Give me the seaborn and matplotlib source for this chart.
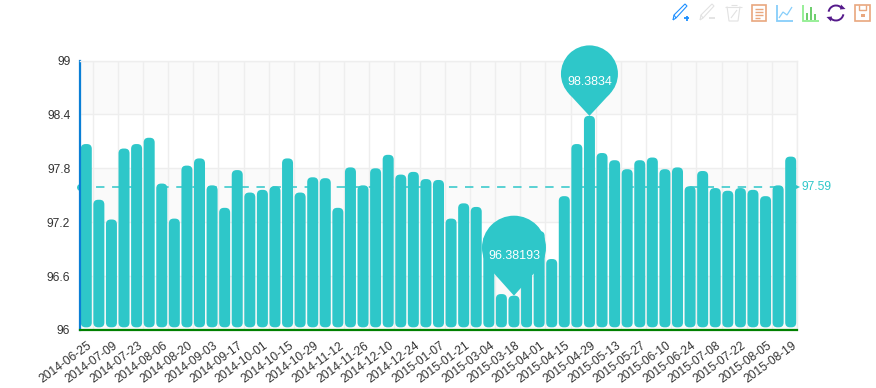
import numpy as np
import pandas as pd
import seaborn as sns
from matplotlib import pyplot as plt
from matplotlib.patches import FancyBboxPatch, Circle, Polygon, Rectangle, Arc
from matplotlib.transforms import Affine2D

tick_labels = ['2014-06-25', '2014-07-09', '2014-07-23', '2014-08-06', '2014-08-20', '2014-09-03',
               '2014-09-17', '2014-10-01', '2014-10-15', '2014-10-29', '2014-11-12', '2014-11-26',
               '2014-12-10', '2014-12-24', '2015-01-07', '2015-01-21', '2015-03-04', '2015-03-18',
               '2015-04-01', '2015-04-15', '2015-04-29', '2015-05-13', '2015-05-27', '2015-06-10',
               '2015-06-24', '2015-07-08', '2015-07-22', '2015-08-05', '2015-08-19']
values = [98.07, 97.45, 97.23, 98.02, 98.07, 98.14, 97.63, 97.24, 97.83, 97.91,
          97.61, 97.36, 97.78, 97.53, 97.56, 97.60, 97.91, 97.53, 97.70, 97.69,
          97.36, 97.81, 97.61, 97.80, 97.95, 97.73, 97.76, 97.68, 97.67, 97.24,
          97.41, 97.37, 97.05, 96.40, 96.38193, 97.00, 97.10, 96.79, 97.49, 98.07,
          98.3834, 97.97, 97.89, 97.79, 97.89, 97.92, 97.79, 97.81, 97.60, 97.77,
          97.58, 97.55, 97.58, 97.56, 97.49, 97.61, 97.93]
y_ticks = [96, 96.6, 97.2, 97.8, 98.4, 99]
y_tick_labels = ['96', '96.6', '97.2', '97.8', '98.4', '99']
mean_value = 97.59

teal = '#2ec7c9'
grid = '#eeeeee'
band = '#fafafa'
text_color = '#333333'

sns.set_theme(style="white")
plt.rcParams['font.family'] = ['Liberation Sans', 'DejaVu Sans']
font_size = 8.64

W, H = 876, 388
fig = plt.figure(figsize=(W / 100, H / 100), dpi=100)
ax = fig.add_axes([80 / W, (H - 330) / H, 717 / W, 269.5 / H])

data = pd.DataFrame({'bar': np.arange(len(values)), 'value': values})
sns.barplot(data=data, x='bar', y='value', color=teal, saturation=1, width=0.875, ax=ax)

n = len(values)
ax.set_xlim(-0.5, n - 0.5)
ax.set_ylim(96, 99)
ax.set_xlabel('')
ax.set_ylabel('')

# rounded bars instead of the square ones
aspect = (717 / n) / (269.5 / 3)
for p in list(ax.patches):
    x0, w, top = p.get_x(), p.get_width(), p.get_height()
    p.remove()
    ax.add_patch(FancyBboxPatch((x0, 96.03), w, top - 96.03, boxstyle='round,pad=0,rounding_size=0.38',
                                mutation_aspect=aspect, fc=teal, ec='none', zorder=3))

for i in range(0, len(y_ticks) - 1, 2):
    ax.axhspan(y_ticks[len(y_ticks) - 2 - i], y_ticks[len(y_ticks) - 1 - i], color=band, lw=0, zorder=0)

edges = [-0.5] + list(np.arange(0.5, n - 1, 2)) + [n - 0.5]
ax.set_xticks(edges, [''] * len(edges))
ax.set_xticks(np.arange(0, n, 2), tick_labels, minor=True)
ax.set_yticks(y_ticks, y_tick_labels)
ax.grid(True, which='major', color=grid, lw=1.0, zorder=1)
ax.set_axisbelow(True)
ax.tick_params(axis='x', which='major', length=4, width=0.8, color=text_color, direction='out', pad=0)
ax.tick_params(axis='x', which='minor', length=0, pad=7, labelsize=font_size, labelcolor=text_color)
ax.tick_params(axis='y', length=0, pad=7, labelsize=font_size, labelcolor=text_color)

shift = Affine2D().translate(1, 0)
for t in ax.get_xticklabels(minor=True):
    t.set_rotation(36)
    t.set_ha('right')
    t.set_va('top')
    t.set_rotation_mode('anchor')
    t.set_transform(t.get_transform() + shift)

for side in ['top', 'right']:
    ax.spines[side].set_color(grid)
    ax.spines[side].set_linewidth(1.0)
ax.spines['left'].set_color('#0a7fd6')
ax.spines['left'].set_linewidth(1.6)
ax.spines['bottom'].set_color('#008000')
ax.spines['bottom'].set_linewidth(1.6)
for s in ax.spines.values():
    s.set_visible(True)
    s.set_zorder(6)

# average line
ax.plot([-0.5, n - 0.5], [mean_value, mean_value], color=teal, lw=1.1, dashes=(5.5, 5), zorder=2, clip_on=False)
ax.plot([-0.5], [mean_value], 'o', color=teal, ms=5, mew=0, zorder=2, clip_on=False)
ax.plot([n - 0.5], [mean_value], '>', color=teal, ms=5, mew=0, zorder=7, clip_on=False)
ax.annotate(f'{mean_value}', (n - 0.5, mean_value), xytext=(3.6, 0), textcoords='offset points',
            color=teal, fontsize=font_size, va='center', ha='left', annotation_clip=False)


# marker pins, sizes in pixels from the tip of the bar
def pin(index, text, radius, dist, text_drop):
    tx, ty = ax.transData.transform((index, values[index]))
    off = Affine2D().translate(tx, ty)
    side = radius * np.sqrt(1 - (radius / dist) ** 2)
    up = dist - radius ** 2 / dist
    ax.add_patch(Circle((0, dist), radius, transform=off, fc=teal, ec='none', zorder=8, clip_on=False))
    ax.add_patch(Polygon([(0, 0), (-side, up), (side, up)], transform=off, fc=teal, ec='none', zorder=8, clip_on=False))
    ax.text(tx, ty + dist - text_drop, text, transform=None, color='white', fontsize=9,
            ha='center', va='center', zorder=9)


fig.canvas.draw()
pin(values.index(98.3834), '98.3834', 28.5, 42, 8)
pin(values.index(96.38193), '96.38193', 32, 48, 8.5)

# toolbox icons, pixel positions
tb = fig.add_axes([0, 0, 1, 1], facecolor='none')
tb.set_xlim(0, W)
tb.set_ylim(H, 0)
tb.axis('off')
lw = 0.8


def line(xs, ys, c, w=lw):
    tb.plot(xs, ys, color=c, lw=w, solid_capstyle='butt', solid_joinstyle='miter')


def pencil(x, c):
    line([x + 1, x + 2, x + 13, x + 15, x + 4, x + 1], [20, 15, 4, 6, 18, 20], c)
    line([x + 2, x + 4], [15, 18], c)


blue = '#1e90ff'
pencil(672, blue)
line([684, 689], [18, 18], blue, 1.3)
line([686.5, 686.5], [15.5, 20.5], blue, 1.3)

light = '#e2e2e2'
pencil(699, light)
line([709, 715], [18, 18], light, 1.3)

line([725, 742], [6.5, 6.5], light)
line([731, 737], [4.5, 4.5], light)
line([727, 729, 738, 740], [6.5, 21, 21, 6.5], light)
line([731, 737], [18, 10], light)

peach = '#e9a77e'
tb.add_patch(Rectangle((752, 5), 14, 16, fc='none', ec=peach, lw=1.2))
for yy, xe in zip([9, 12, 15, 18], [763, 763, 763, 760]):
    line([755, xe], [yy, yy], peach, 1.0)

sky = '#87cefa'
line([777, 777, 793], [5, 20.5, 20.5], sky, 1.3)
line([779, 783, 787, 792], [18, 12, 15, 7], sky, 0.9)

green = '#90ee90'
line([803, 803, 819], [5, 20.5, 20.5], green, 1.3)
for bx, by in zip([806, 810, 814], [13, 7, 14]):
    tb.add_patch(Rectangle((bx, by), 2.4, 19.5 - by, fc='#6fce6f', ec='none'))

purple = '#551a8b'
tb.add_patch(Arc((836, 13), 15, 15, theta1=190, theta2=320, ec=purple, lw=1.4))
tb.add_patch(Arc((836, 13), 15, 15, theta1=10, theta2=140, ec=purple, lw=1.4))
tb.add_patch(Polygon([(841, 4.5), (845.5, 9), (840, 9.5)], fc=purple, ec='none'))
tb.add_patch(Polygon([(831, 21.5), (826.5, 17), (832, 16.5)], fc=purple, ec='none'))

tb.add_patch(Rectangle((855, 5), 15, 16, fc='none', ec=peach, lw=1.2))
line([859, 859, 866, 866], [5, 10, 10, 5], peach, 1.0)
tb.add_patch(Rectangle((861, 14), 3.5, 3, fc=peach, ec='none'))

fig.savefig('out.png', dpi=100, facecolor='white')
